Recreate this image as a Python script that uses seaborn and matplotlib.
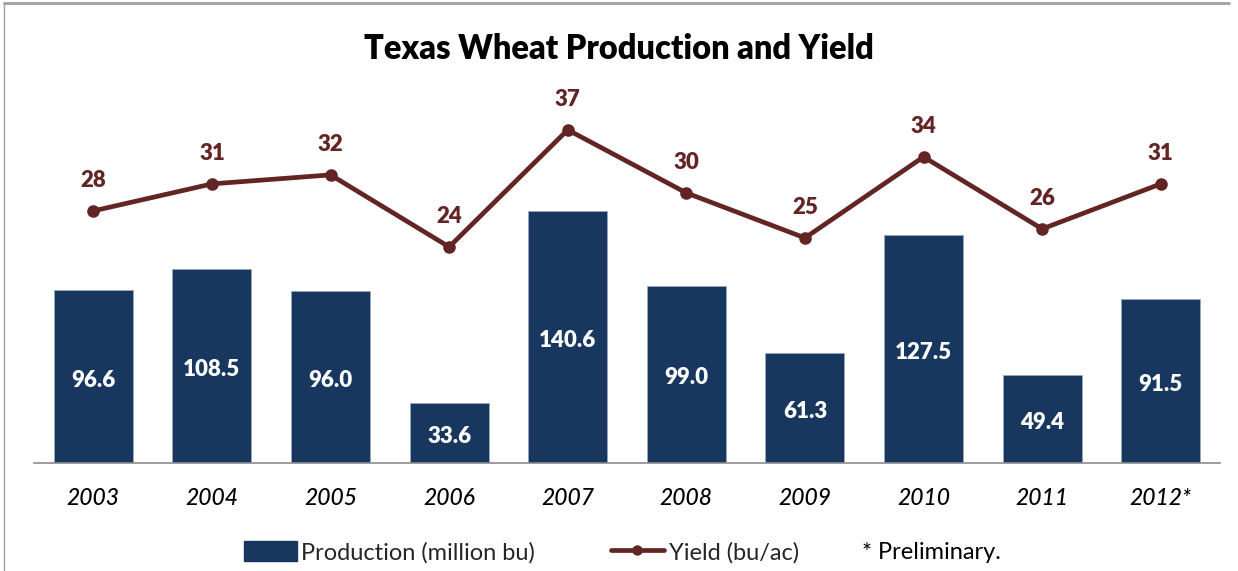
import matplotlib.pyplot as plt
import matplotlib.patches as mpatches
from matplotlib.lines import Line2D
import seaborn as sns
import pandas as pd

years = ['2003', '2004', '2005', '2006', '2007', '2008', '2009', '2010', '2011', '2012*']
production = [96.6, 108.5, 96.0, 33.6, 140.6, 99.0, 61.3, 127.5, 49.4, 91.5]
yield_bu = [28, 31, 32, 24, 37, 30, 25, 34, 26, 31]

navy = '#17375E'
maroon = '#632523'

sns.set_theme(style='white')
plt.rcParams['font.family'] = ['Lato', 'DejaVu Sans']

df = pd.DataFrame({'year': years, 'production': production, 'yield': yield_bu})

fig = plt.figure(figsize=(12.38, 5.71), dpi=100)
ax = fig.add_axes([0.0275, 0.189, 0.958, 0.653])

sns.barplot(data=df, x='year', y='production', color=navy, width=0.666,
            saturation=1, ax=ax, edgecolor='#9aa8bb', linewidth=0.6)
for p, v in zip(ax.patches, production):
    ax.text(p.get_x() + p.get_width() / 2, v / 2 - 2, f'{v:.1f}', ha='center', va='center',
            color='white', fontsize=16, fontweight='heavy')

ax2 = ax.twinx()
sns.pointplot(data=df, x='year', y='yield', color=maroon, markers='o',
              linestyles='-', ax=ax2, markersize=6.5, linewidth=3.4)
for i, v in enumerate(yield_bu):
    ax2.annotate(str(v), (i, v), xytext=(0, 22), textcoords='offset points',
                 ha='center', va='center', color=maroon, fontsize=16, fontweight='heavy')

ax.set_xlim(-0.5, 9.5)
ax.set_ylim(0, 208)
ax2.set_ylim(0, 41.4)
for a in (ax, ax2):
    a.set_yticks([])
    a.set_ylabel('')
    a.set_xlabel('')
    for s in ('top', 'right', 'left', 'bottom'):
        a.spines[s].set_visible(False)
ax.spines['bottom'].set_visible(True)
ax.spines['bottom'].set_color('#8c8c8c')
ax.spines['bottom'].set_linewidth(1.2)
ax.tick_params(axis='x', length=0, pad=18)
for lbl in ax.get_xticklabels():
    lbl.set_fontstyle('italic')
    lbl.set_fontsize(16.5)
    lbl.set_fontweight('medium')
    lbl.set_color('black')

fig.text(0.5, 0.915, 'Texas Wheat Production and Yield', ha='center', va='center',
         fontsize=23.5, fontweight='heavy', color='black')

handles = [mpatches.Patch(color=navy),
           Line2D([0], [0], color=maroon, lw=3.4, marker='o', markersize=6.5)]
leg = fig.legend(handles, ['Production (million bu)', 'Yield (bu/ac)'],
                 loc='center', bbox_to_anchor=(0.421, 0.033), ncol=2, frameon=False,
                 fontsize=17, handlelength=2.25, handleheight=0.95, handletextpad=0.2,
                 columnspacing=3.2, borderpad=0)
fig.text(862 / 1238, 0.033, '* Preliminary.', ha='left', va='center', fontsize=17,
         color='black')

# thin frame along the top and left edges
fig.add_artist(Line2D([0.003, 0.993], [0.994, 0.994], color='#a0a0a0', lw=2, transform=fig.transFigure))
fig.add_artist(Line2D([0.003, 0.003], [0.0, 0.994], color='#a0a0a0', lw=1, transform=fig.transFigure))

fig.savefig('out.png', dpi=100)
